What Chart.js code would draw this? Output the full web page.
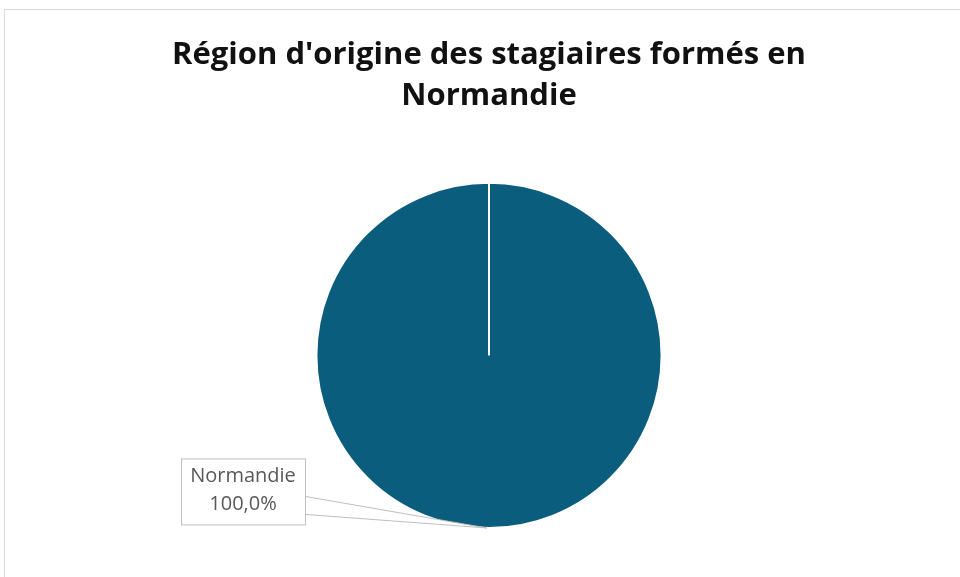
<!DOCTYPE html>
<html lang="fr">
<head>
  <meta charset="UTF-8" />
  <title>Région d'origine des stagiaires formés en Normandie</title>
  <script src="https://cdn.jsdelivr.net/npm/chart.js"></script>
  <style>
    html, body {
      margin: 0;
      padding: 0;
      background: #fff;
      overflow: hidden;
    }
    .frame {
      position: absolute;
      left: 4px;
      top: 9px;
      width: 970px;
      height: 590px;
      border: 1px solid #d9d9d9;
      box-sizing: border-box;
    }
    .wrap {
      position: absolute;
      left: 0;
      top: 0;
      width: 960px;
      height: 577px;
    }
  </style>
</head>
<body>
  <div class="frame"></div>
  <div class="wrap"><canvas id="pie-chart" width="960" height="577"></canvas></div>

  <script>
    const regions = ["Normandie"];
    const shares = [100];
    const pieColors = ["#0b5d7d"];

    // étiquette façon Excel : boîte + pointeur vers la part
    const calloutLabel = {
      id: "calloutLabel",
      afterDatasetsDraw(chart) {
        const ctx = chart.ctx;
        const arc = chart.getDatasetMeta(0).data[0];
        const cx = arc.x, cy = arc.y, r = arc.outerRadius;
        const a = Math.PI / 2 + 0.012;
        const tipX = cx + r * Math.cos(a);
        const tipY = cy + r * Math.sin(a);

        const boxX = cx - 308, boxY = cy + 103, boxW = 124, boxH = 66;
        const total = shares.reduce((s, v) => s + v, 0);
        const pct = (shares[0] / total * 100).toFixed(1).replace(".", ",") + "%";

        ctx.save();
        ctx.strokeStyle = "#bfbfbf";
        ctx.lineWidth = 1;
        ctx.fillStyle = "#fff";
        // pointeur
        ctx.beginPath();
        ctx.moveTo(boxX + boxW, boxY + 38);
        ctx.lineTo(tipX, tipY);
        ctx.lineTo(boxX + boxW, boxY + 56);
        ctx.closePath();
        ctx.fill();
        ctx.stroke();
        // boîte
        ctx.fillRect(boxX, boxY, boxW, boxH);
        ctx.strokeRect(boxX + 0.5, boxY + 0.5, boxW, boxH);

        ctx.fillStyle = "#595959";
        ctx.font = "20px 'Open Sans', sans-serif";
        ctx.textAlign = "center";
        ctx.textBaseline = "middle";
        ctx.fillText(regions[0], boxX + boxW / 2, boxY + 18);
        ctx.fillText(pct, boxX + boxW / 2, boxY + 46);
        ctx.restore();
      }
    };

    new Chart(document.getElementById("pie-chart"), {
      type: "pie",
      data: {
        labels: regions,
        datasets: [{
          data: shares,
          backgroundColor: pieColors,
          borderColor: "#fff",
          borderWidth: 2
        }]
      },
      options: {
        responsive: false,
        animation: false,
        layout: { padding: { left: 18, right: 0, top: 0, bottom: 48 } },
        plugins: {
          legend: { display: false },
          tooltip: { enabled: false },
          title: {
            display: true,
            text: ["Région d'origine des stagiaires formés en", "Normandie"],
            color: "#111",
            font: { family: "Open Sans", size: 31, weight: "bold", lineHeight: 1.32 },
            padding: { top: 35, bottom: 65 }
          }
        }
      },
      plugins: [calloutLabel]
    });
  </script>
</body>
</html>
